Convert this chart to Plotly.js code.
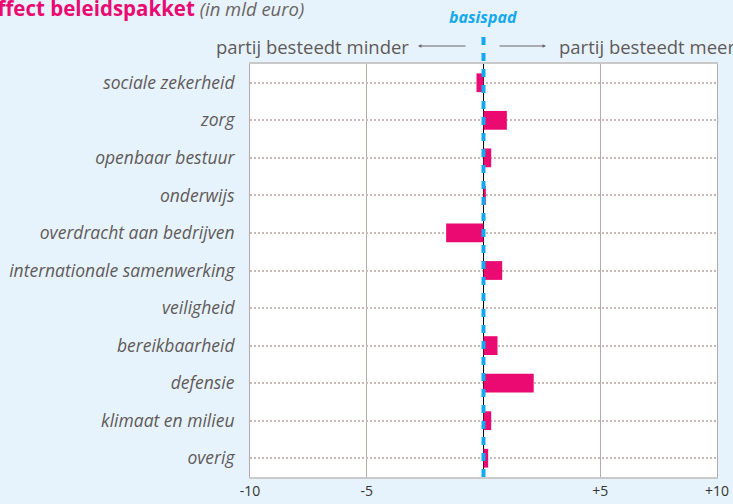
<!DOCTYPE html>
<html>
<head>
<meta charset="utf-8">
<script src="https://cdn.plot.ly/plotly-3.0.1.min.js"></script>
<style>
  html, body { margin: 0; padding: 0; background: #e7f3fc; }
  #chart { width: 733px; height: 504px; }
</style>
</head>
<body>
<div id="chart"></div>
<script>
const categories = [
  "sociale zekerheid",
  "zorg",
  "openbaar bestuur",
  "onderwijs",
  "overdracht aan bedrijven",
  "internationale samenwerking",
  "veiligheid",
  "bereikbaarheid",
  "defensie",
  "klimaat en milieu",
  "overig"
];
const values = [-0.3, 1.0, 0.33, 0.1, -1.6, 0.8, 0.0, 0.6, 2.15, 0.33, 0.2];
const tickVals = [-10, -5, 5, 10];
const tickText = ["-10", "-5", "+5", "+10"];

const W = 733, H = 504;
const L = 250, R = 16, T = 64, B = 27;
const pw = W - L - R, ph = H - T - B;
const px = x => (x - L) / pw;
const py = y => (H - B - y) / ph;

const FONT = "Open Sans, sans-serif";
const GREY = "#5f5a5a";
const PINK = "#ea0a72";
const BLUE = "#14a9ee";

const trace = {
  type: "bar",
  orientation: "h",
  x: values,
  y: categories,
  marker: { color: PINK, line: { width: 0 } },
  width: 0.5,
  hoverinfo: "skip"
};

const layout = {
  width: W, height: H,
  margin: { l: L, r: R, t: T, b: B, pad: 0 },
  paper_bgcolor: "#e7f3fc",
  plot_bgcolor: "#ffffff",
  showlegend: false,
  font: { family: FONT, color: GREY },
  xaxis: {
    range: [-10, 10],
    tickvals: tickVals,
    ticktext: tickText,
    tickfont: { family: FONT, size: 14, color: "#333333" },
    showgrid: true,
    gridcolor: "#b9aaa8",
    gridwidth: 1,
    zeroline: true,
    zerolinecolor: "#000000",
    zerolinewidth: 1.5,
    showline: true,
    linecolor: "#c9c9c9",
    linewidth: 2,
    mirror: true,
    ticks: "",
    fixedrange: true
  },
  yaxis: {
    type: "category",
    categoryorder: "array",
    categoryarray: categories,
    range: [10.5, -0.5],
    tickfont: { family: FONT, size: 17.5, color: GREY, style: "italic" },
    ticklabelstandoff: 11,
    showgrid: true,
    gridcolor: "#c8b9b9",
    gridwidth: 2,
    griddash: "2px,2px",
    zeroline: false,
    showline: true,
    linecolor: "#b9aaa8",
    linewidth: 1,
    mirror: true,
    ticks: "",
    fixedrange: true
  },
  shapes: [
    {
      type: "line", xref: "x", yref: "paper",
      x0: 0, x1: 0, y0: 0, y1: py(37),
      line: { color: BLUE, width: 4, dash: "8px,8px" },
      layer: "above"
    }
  ],
  annotations: [
    {
      xref: "paper", yref: "paper", x: px(306), y: py(8),
      xanchor: "right", yanchor: "middle", showarrow: false,
      text: "<b><span style='color:" + PINK + ";font-size:20.5px'>Effect beleidspakket</span></b> <i><span style='color:#6a6464'>(in mld euro)</span></i>",
      font: { family: FONT, size: 18.5 }
    },
    {
      xref: "paper", yref: "paper", x: px(483), y: py(17),
      xanchor: "center", yanchor: "middle", showarrow: false,
      text: "<b><i>basispad</i></b>",
      font: { family: FONT, size: 16, color: BLUE }
    },
    {
      xref: "paper", yref: "paper", x: px(411), y: py(46),
      xanchor: "right", yanchor: "middle", showarrow: false,
      text: "partij besteedt minder",
      font: { family: FONT, size: 18.5, color: GREY }
    },
    {
      xref: "paper", yref: "paper", x: px(557), y: py(46),
      xanchor: "left", yanchor: "middle", showarrow: false,
      text: "partij besteedt meer",
      font: { family: FONT, size: 18.5, color: GREY }
    },
    {
      xref: "paper", yref: "paper", x: px(418), y: py(46),
      ax: 49, ay: 0, text: "", showarrow: true,
      arrowhead: 2, arrowsize: 0.7, arrowwidth: 1, arrowcolor: "#6a6464"
    },
    {
      xref: "paper", yref: "paper", x: px(546), y: py(46),
      ax: -48, ay: 0, text: "", showarrow: true,
      arrowhead: 2, arrowsize: 0.7, arrowwidth: 1, arrowcolor: "#6a6464"
    }
  ]
};

Plotly.newPlot("chart", [trace], layout, { displayModeBar: false, staticPlot: true });
</script>
</body>
</html>
